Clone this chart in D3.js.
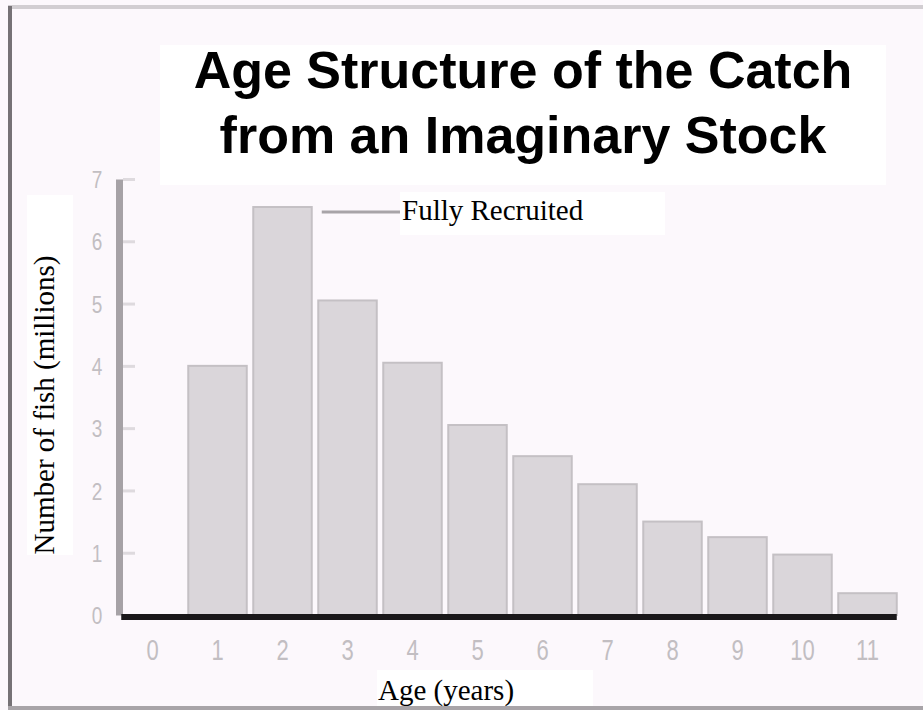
<!DOCTYPE html>
<html>
<head>
<meta charset="utf-8">
<script src="https://cdn.jsdelivr.net/npm/d3@7"></script>
<style>
  html, body { margin: 0; padding: 0; background: #fcf8fc; }
  svg { display: block; }
</style>
</head>
<body>
<svg id="chart" width="923" height="710"></svg>
<script>
// ---- data ----
const ages = ["0", "1", "2", "3", "4", "5", "6", "7", "8", "9", "10", "11"];
const catchMillions = [0, 4.0, 6.55, 5.05, 4.05, 3.05, 2.55, 2.1, 1.5, 1.25, 0.97, 0.35];
const yTickValues = [0, 1, 2, 3, 4, 5, 6, 7];
const titleLines = ["Age Structure of the Catch", "from an Imaginary Stock"];
const xAxisTitle = "Age (years)";
const yAxisTitle = "Number of fish (millions)";
const annotationText = "Fully Recruited";
const annotatedAge = "2";

// ---- setup ----
const svg = d3.select("#chart");
svg.append("rect").attr("width", 923).attr("height", 710).attr("fill", "#fcf8fc");

// frame
svg.append("rect").attr("x", 8).attr("y", 5).attr("width", 915).attr("height", 4).attr("fill", "#d2ced2");
svg.append("rect").attr("x", 8).attr("y", 6).attr("width", 4).attr("height", 704).attr("fill", "#767276");
svg.append("rect").attr("x", 8).attr("y", 706).attr("width", 915).attr("height", 4).attr("fill", "#a8a4a8");

const x = d3.scaleBand().domain(ages).range([120, 900]).paddingInner(0.1).paddingOuter(0.05);
const y = d3.scaleLinear().domain([0, 7]).range([615, 179]);

// title box
svg.append("rect").attr("x", 160).attr("y", 45).attr("width", 726).attr("height", 140).attr("fill", "#ffffff");
svg.selectAll("text.title").data(titleLines).enter().append("text")
  .attr("class", "title")
  .attr("x", 523)
  .attr("y", (d, i) => 88 + i * 65)
  .attr("text-anchor", "middle")
  .attr("font-family", "'Liberation Sans', Arial, sans-serif")
  .attr("font-weight", "bold")
  .attr("font-size", 52)
  .attr("fill", "#000")
  .text(d => d);

// bars
svg.selectAll("rect.bar").data(catchMillions).enter().append("rect")
  .attr("class", "bar")
  .attr("x", (d, i) => x(ages[i]))
  .attr("y", d => y(d))
  .attr("width", x.bandwidth())
  .attr("height", d => y(0) - y(d))
  .attr("fill", "#dad6da")
  .attr("stroke", "#c4c0c4")
  .attr("stroke-width", 2);

// y axis
const yAxis = d3.axisLeft(y).tickValues(yTickValues).tickFormat(d3.format("d"))
  .tickSizeInner(-16).tickSizeOuter(0).tickPadding(0);
const gy = svg.append("g").attr("transform", "translate(119,0)").call(yAxis);
gy.select(".domain").attr("stroke", "#a6a2a6").attr("stroke-width", 7);
gy.selectAll(".tick line").attr("stroke", "#dedade").attr("stroke-width", 3).attr("x1", 4);
gy.selectAll(".tick text")
  .attr("x", -22).attr("dy", "0.35em")
  .attr("text-anchor", "middle")
  .attr("transform", "scale(1,1.3)")
  .attr("font-family", "'Liberation Sans', Arial, sans-serif")
  .attr("font-size", 19)
  .attr("fill", "#c2bec2");

// x axis
const xAxis = d3.axisBottom(x).tickSize(0).tickSizeOuter(0);
const gx = svg.append("g").attr("transform", "translate(0,617)").call(xAxis);
gx.select(".domain").attr("stroke", "#1a181a").attr("stroke-width", 6)
  .attr("d", `M${x(ages[0]) - 2},0H${x(ages[ages.length - 1]) + x.bandwidth()}`);
gx.selectAll(".tick text")
  .attr("y", 33 / 1.3).attr("dy", "0.35em")
  .attr("transform", "scale(1,1.3)")
  .attr("font-family", "'Liberation Sans', Arial, sans-serif")
  .attr("font-size", 22)
  .attr("fill", "#c2bec2");

// annotation
const ai = ages.indexOf(annotatedAge);
const annY = y(catchMillions[ai]) + 5;
svg.append("line")
  .attr("x1", x(annotatedAge) + x.bandwidth() + 10).attr("x2", 401)
  .attr("y1", annY).attr("y2", annY)
  .attr("stroke", "#a8a4a8").attr("stroke-width", 3);
svg.append("rect").attr("x", 400).attr("y", 192).attr("width", 265).attr("height", 43).attr("fill", "#ffffff");
svg.append("text")
  .attr("x", 402).attr("y", 220)
  .attr("font-family", "'Liberation Serif', 'Times New Roman', serif")
  .attr("font-size", 29)
  .attr("fill", "#000")
  .text(annotationText);

// y axis title
svg.append("rect").attr("x", 27).attr("y", 195).attr("width", 46).attr("height", 360).attr("fill", "#ffffff");
svg.append("text")
  .attr("transform", "translate(54,405) rotate(-90)")
  .attr("text-anchor", "middle")
  .attr("font-family", "'Liberation Serif', 'Times New Roman', serif")
  .attr("font-size", 29)
  .attr("fill", "#000")
  .text(yAxisTitle);

// x axis title
svg.append("rect").attr("x", 377).attr("y", 670).attr("width", 216).attr("height", 36).attr("fill", "#ffffff");
svg.append("text")
  .attr("x", 378).attr("y", 700)
  .attr("font-family", "'Liberation Serif', 'Times New Roman', serif")
  .attr("font-size", 29)
  .attr("fill", "#000")
  .text(xAxisTitle);
</script>
</body>
</html>
